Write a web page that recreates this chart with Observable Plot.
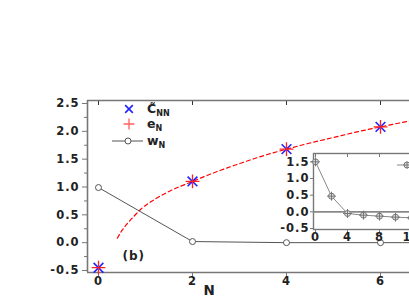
<!DOCTYPE html>
<html><head><meta charset="utf-8">
<script src="https://cdn.jsdelivr.net/npm/d3@7"></script>
<script src="https://cdn.jsdelivr.net/npm/@observablehq/plot@0.6"></script>
<style>
html,body{margin:0;padding:0;background:#fff;width:409px;height:300px;overflow:hidden;}
#wrap{position:relative;width:409px;height:300px;overflow:hidden;}
#main,#inset,#legend{position:absolute;}
#main{left:0;top:0;}
#inset{left:283px;top:140px;width:160px;}
#legend{left:0;top:0;}
svg{max-width:none !important;}
</style></head><body>
<div id="wrap"><div id="main"></div><div id="inset"></div><svg id="legend" width="409" height="300"></svg></div>
<script>
// ---- data ----
const nPoints = [0, 2, 4, 6];
const cNN = [-0.45, 1.10, 1.68, 2.08];
const eN = [0, 2, 4, 6];
const eV = [-0.45, 1.10, 1.68, 2.08];
const eCurveN = [0.40, 0.50, 0.60, 0.75, 0.90, 1.2, 1.5, 2.0, 2.5, 3.0, 3.5, 4.0, 4.5, 5.0, 5.5, 6.0, 6.7];
const eCurveV = [0.08, 0.22, 0.33, 0.47, 0.60, 0.78, 0.92, 1.10, 1.27, 1.42, 1.56, 1.68, 1.79, 1.89, 1.99, 2.08, 2.20];
const wN = [0, 2, 4, 6, 8];
const wV = [0.99, 0.02, 0.00, 0.00, 0.00];
const insetN = [0, 2, 4, 6, 8, 10, 12];
const insetV = [1.50, 0.47, -0.05, -0.10, -0.13, -0.16, -0.18];
const yTicks = [-0.5, 0, 0.5, 1, 1.5, 2, 2.5];
const yMinor = [-0.25, 0.25, 0.75, 1.25, 1.75, 2.25];
const xTicks = [0, 2, 4, 6];
const insetYTicks = [-0.5, 0, 0.5, 1, 1.5];
const insetXTicks = [0, 4, 8, 12];

const font = "'DejaVu Sans', Verdana, sans-serif";
const frameColor = "#777";
const fmt = d => d.toFixed(1);
const X0 = -0.234, X1 = 6.617, Y0 = -0.536, Y1 = 2.554;
const textStyle = {fontFamily: font, fontSize: "11.5px", fontWeight: "bold", letterSpacing: "1px", background: "transparent", color: "#222", overflow: "visible"};

const main = Plot.plot({
  width: 409, height: 300,
  marginTop: 100, marginLeft: 87, marginRight: 0, marginBottom: 28,
  style: textStyle,
  x: {domain: [X0, X1]},
  y: {domain: [Y0, Y1]},
  marks: [
    Plot.ruleX([X0], {stroke: frameColor, strokeWidth: 1.6}),
    Plot.ruleY([Y0, Y1], {stroke: frameColor, strokeWidth: 1.6}),
    Plot.axisY({ticks: yTicks, tickSize: 5, tickPadding: 3, tickFormat: fmt, label: null, stroke: frameColor}),
    Plot.axisY({ticks: yMinor, tickSize: 3, tickFormat: () => "", label: null, stroke: frameColor}),
    Plot.axisX({ticks: xTicks, tickSize: 4, tickPadding: 0, tickFormat: d => String(d), label: null, stroke: frameColor}),
    Plot.axisX({anchor: "top", ticks: xTicks, tickSize: -4, tickFormat: () => "", label: null, stroke: "#333"}),
    Plot.line(eCurveN.map((n, i) => ({n, v: eCurveV[i]})), {x: "n", y: "v", stroke: "#f00", strokeWidth: 1.2, strokeDasharray: "4,3", curve: "monotone-x", clip: true}),
    Plot.line(wN.map((n, i) => ({n, v: wV[i]})), {x: "n", y: "v", stroke: "#555", strokeWidth: 1, clip: true}),
    Plot.dot(wN.map((n, i) => ({n, v: wV[i]})), {x: "n", y: "v", r: 3, stroke: "#555", fill: "white", strokeWidth: 1, clip: true}),
    Plot.dot(nPoints.map((n, i) => ({n, v: cNN[i]})), {x: "n", y: "v", symbol: "times", r: 4.5, stroke: "#2222ff", strokeWidth: 1.6}),
    Plot.dot(eN.map((n, i) => ({n, v: eV[i]})), {x: "n", y: "v", symbol: "plus", r: 4.5, stroke: "#ff2020", strokeWidth: 1.3}),
    Plot.text(["(b)"], {frameAnchor: "bottom-left", dx: 35, dy: -13, textAnchor: "start", fontSize: 12, fontWeight: "bold"}),
    Plot.text(["N"], {frameAnchor: "bottom-left", dx: 116, dy: 22, fontSize: 13.5, fontWeight: "bold"})
  ]
});
document.getElementById("main").appendChild(main);

const inset = Plot.plot({
  width: 146, height: 107,
  marginTop: 13, marginLeft: 30, marginRight: 10, marginBottom: 18,
  style: textStyle,
  x: {domain: [-0.25, 13]},
  y: {domain: [-0.53, 1.75]},
  marks: [
    Plot.frame({fill: "white", stroke: frameColor, strokeWidth: 1.4}),
    Plot.ruleY([0], {stroke: "#888", strokeWidth: 1.6}),
    Plot.axisY({ticks: insetYTicks, tickSize: 3, tickPadding: 1, tickFormat: fmt, label: null, stroke: frameColor}),
    Plot.axisX({ticks: insetXTicks, tickSize: 3, tickPadding: 0, tickFormat: d => String(d), label: null, stroke: frameColor}),
    Plot.axisX({anchor: "top", ticks: insetXTicks, tickSize: -3, tickFormat: () => "", label: null, stroke: frameColor}),
    Plot.line(insetN.map((n, i) => ({n, v: insetV[i]})), {x: "n", y: "v", stroke: "#888", strokeWidth: 1}),
    Plot.dot(insetN.map((n, i) => ({n, v: insetV[i]})), {x: "n", y: "v", r: 3, stroke: "#777", fill: "#ddd", strokeWidth: 1}),
    Plot.dot(insetN.map((n, i) => ({n, v: insetV[i]})), {x: "n", y: "v", symbol: "plus", r: 3, stroke: "#777", strokeWidth: 1})
  ]
});
document.getElementById("inset").appendChild(inset);

// ---- legends ----
const lg = d3.select("#legend").style("font-family", font).style("font-weight", "bold");
const times = d3.symbol(d3.symbolTimes, 40)();
const plus = d3.symbol(d3.symbolPlus, 40)();
lg.append("path").attr("d", times).attr("transform", "translate(129,109)").attr("stroke", "#2222ff").attr("stroke-width", 1.6).attr("fill", "none");
lg.append("path").attr("d", plus).attr("transform", "translate(129,124)").attr("stroke", "#ff6060").attr("stroke-width", 1.3).attr("fill", "none");
lg.append("line").attr("x1", 112).attr("x2", 143).attr("y1", 141).attr("y2", 141).attr("stroke", "#555");
lg.append("circle").attr("cx", 128).attr("cy", 141).attr("r", 3).attr("stroke", "#555").attr("fill", "white");
const lab = (y, main, sub) => {
  const t = lg.append("text").attr("x", 147).attr("y", y).attr("font-size", 12.5).attr("fill", "#222");
  t.append("tspan").text(main);
  t.append("tspan").attr("font-size", 8).attr("dy", 3).text(sub);
};
lab(113, "C\u0303", "NN");
lab(128, "e", "N");
lab(145, "w", "N");
// inset legend entry (cut off at right)
lg.append("line").attr("x1", 397).attr("x2", 409).attr("y1", 165).attr("y2", 165).attr("stroke", "#888");
lg.append("circle").attr("cx", 407).attr("cy", 165).attr("r", 3).attr("stroke", "#777").attr("fill", "#ddd");
lg.append("path").attr("d", d3.symbol(d3.symbolPlus, 20)()).attr("transform", "translate(407,165)").attr("stroke", "#777").attr("fill", "none");
</script></body></html>
